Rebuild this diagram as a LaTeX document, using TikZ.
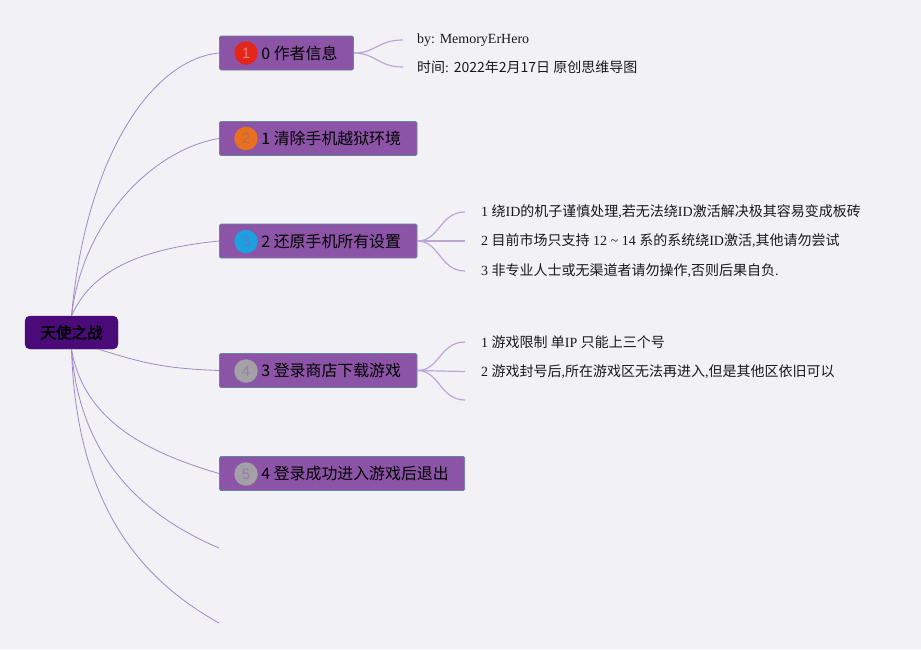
\documentclass[tikz,border=0pt]{standalone}
\usepackage{fontspec}
\setmainfont{Liberation Serif}
\newfontfamily\cjk{Noto Sans CJK SC}
\newfontfamily\cjkb[FakeBold=2.5]{Noto Sans CJK SC}
\newfontfamily\badgefont{Liberation Sans}
\newcommand\zh[1]{{\cjk #1}}
\definecolor{bgc}{HTML}{F2F1F5}
\definecolor{boxfill}{HTML}{8C54A6}
\definecolor{boxline}{HTML}{64879A}
\definecolor{rootfill}{HTML}{4A0A78}
\definecolor{conn}{HTML}{9E8AC6}
\definecolor{subconn}{HTML}{BCA6D8}
\definecolor{cred}{HTML}{E2261A}
\definecolor{corange}{HTML}{E8701E}
\definecolor{cblue}{HTML}{1DA0E0}
\definecolor{cgray}{HTML}{A3A0A6}
\definecolor{tred}{HTML}{EE7A7A}
\definecolor{torange}{HTML}{B86A52}
\definecolor{tblue}{HTML}{5A7CC4}
\definecolor{tgray}{HTML}{9A7DB0}
\tikzset{
  rootbox/.style={draw=rootfill, fill=rootfill, rounded corners=5pt, minimum width=93pt, minimum height=33pt, inner sep=0pt, font=\cjkb\fontsize{15.5}{16}\selectfont, text=black},
  topicbox/.style={draw=boxline, line width=0.9pt, fill=boxfill, rounded corners=1.5pt, anchor=west, minimum height=34pt, inner xsep=0pt, inner ysep=0pt, font=\cjk\fontsize{15.9}{16}\selectfont, text=black},
  badge/.style 2 args={circle, fill=#1, minimum size=23.5pt, inner sep=0pt, text=#2, font=\badgefont\fontsize{15}{15}\selectfont},
  leaf/.style={anchor=west, inner xsep=16pt, inner ysep=1pt, font=\fontsize{14}{15}\selectfont, text=black!90},
  leafa/.style={leaf, inner xsep=14pt},
  mainconn/.style={draw=conn, line width=0.8pt},
  subconnl/.style={draw=subconn, line width=1.2pt},
}
\begin{document}
\begin{tikzpicture}[x=1pt, y=-1pt]
\fill[bgc] (0,0) rectangle (921,649);
\useasboundingbox (0,0) rectangle (921,649);

% root
\node[rootbox] (root) at (71.5,332.5) {天使之战};

% topic boxes
\node[topicbox] (b0) at (219,53) {\hspace*{42pt}0 作者信息\hspace*{16pt}};
\node[topicbox] (b1) at (219,138.5) {\hspace*{42pt}1 清除手机越狱环境\hspace*{16pt}};
\node[topicbox] (b2) at (219,241) {\hspace*{42pt}2 还原手机所有设置\hspace*{16pt}};
\node[topicbox] (b3) at (219,370.5) {\hspace*{42pt}3 登录商店下载游戏\hspace*{16pt}};
\node[topicbox] (b4) at (219,473.5) {\hspace*{42pt}4 登录成功进入游戏后退出\hspace*{16pt}};
\coordinate (e5) at (219,548);
\coordinate (e6) at (219,623);

% badges
\node[badge={cred}{tred}] (n0) at (246,53) {1};
\node[badge={corange}{torange}] (n1) at (246,138.5) {2};
\node[badge={cblue}{tblue}] (n2) at (246,241.5) {3};
\node[badge={cgray}{tgray}] (n3) at (246,371) {4};
\node[badge={cgray}{tgray}] (n4) at (246,474) {5};

% root connectors
\draw[mainconn] (root.north) .. controls +(14,-156) and +(-69,7) .. (b0.west);
\draw[mainconn] (root.north) .. controls +(12,-100) and +(-62,10) .. (b1.west);
\draw[mainconn] (root.north) .. controls +(20,-45) and +(-80,8) .. (b2.west);
\draw[mainconn] ([xshift=27pt]root.south) .. controls +(45,14) and +(-55,-2) .. (b3.west);
\draw[mainconn] (root.south) .. controls +(12,70) and +(-75,-22) .. (b4.west);
\draw[mainconn] (root.south) .. controls +(8,110) and +(-75,-32) .. (e5);
\draw[mainconn] (root.south) .. controls +(5,160) and +(-75,-42) .. (e6);

% leaves of b0
\node[leafa] (l00) at (403,40) {by: MemoryErHero};
\node[leafa] (l01) at (403,67) {\zh{时间}: \zh{2022年2月17日 原创思维导图}};
\draw[subconnl] (b0.east) .. controls +(22,0) and +(-25,0) .. (l00.west);
\draw[subconnl] (b0.east) .. controls +(22,0) and +(-25,0) .. (l01.west);

% leaves of b2
\node[leaf] (l20) at (465,212) {1 \zh{绕}ID\zh{的机子谨慎处理},\zh{若无法绕}ID\zh{激活解决极其容易变成板砖}};
\node[leaf] (l21) at (465,241) {2 \zh{目前市场只支持} 12 \textasciitilde{} 14 \zh{系的系统绕}ID\zh{激活},\zh{其他请勿尝试}};
\node[leaf] (l22) at (465,271) {3 \zh{非专业人士或无渠道者请勿操作},\zh{否则后果自负}.};
\draw[subconnl] (b2.east) .. controls +(22,0) and +(-25,0) .. (l20.west);
\draw[subconnl] (b2.east) -- (l21.west);
\draw[subconnl] (b2.east) .. controls +(22,0) and +(-25,0) .. (l22.west);

% leaves of b3
\node[leaf] (l30) at (465,342) {1 \zh{游戏限制 单}IP \zh{只能上三个号}};
\node[leaf] (l31) at (465,371.5) {2 \zh{游戏封号后},\zh{所在游戏区无法再进入},\zh{但是其他区依旧可以}};
\coordinate (l32) at (465,400);
\draw[subconnl] (b3.east) .. controls +(22,0) and +(-25,0) .. (l30.west);
\draw[subconnl] (b3.east) -- (l31.west);
\draw[subconnl] (b3.east) .. controls +(22,0) and +(-25,0) .. (l32);
\end{tikzpicture}
\end{document}
